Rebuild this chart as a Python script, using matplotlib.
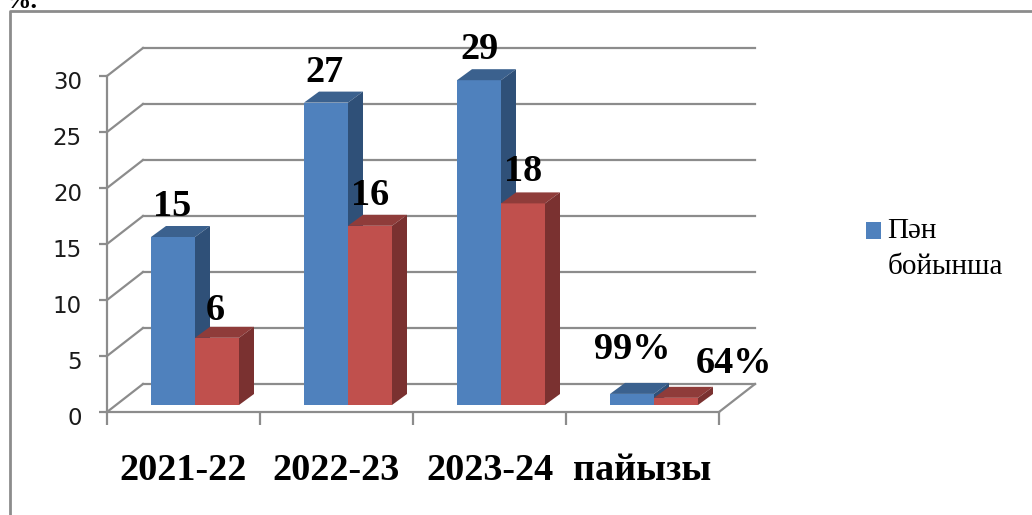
import matplotlib
matplotlib.use('Agg')
import matplotlib.pyplot as plt
from matplotlib.patches import Polygon, Rectangle
from matplotlib.lines import Line2D
from matplotlib.transforms import ScaledTranslation

# Data
categories = ['2021-22', '2022-23', '2023-24', 'пайызы']
blue_values = [15, 27, 29, 0.99]
red_values = [6, 16, 18, 0.64]
blue_labels = ['15', '27', '29', '99%']
red_labels = ['6', '16', '18', '64%']
y_ticks = [0, 5, 10, 15, 20, 25, 30]
legend_text = 'Пән\nбойынша'

# label offsets from the bar top, in pixels (x, y up)
blue_offsets = [(-1, 30), (-2, 30), (0, 31), (0, 44)]
red_offsets = [(-2, 27), (0, 30), (0, 32), (58, 34)]

SERIF = ['Liberation Serif', 'DejaVu Serif']

W, H = 1032, 515
fig = plt.figure(figsize=(W / 100, H / 100), dpi=100)
fig.patch.set_facecolor('white')

GRID = '#8c8c8c'

# Outer chart frame, only top and left are inside the crop
fig.add_artist(Line2D([1, 10 / W, 10 / W], [1 - 11 / H, 1 - 11 / H, 0], transform=fig.transFigure,
                      color=GRID, linewidth=2))
fig.text(4 / W, 1 - 1 / H, '%.', family=SERIF, fontsize=19, fontweight='bold', va='center', ha='left')

# Axes placed so that y 0 -> 412px, y 30 -> 76px, x spans 107..719px
ax = fig.add_axes([107 / W, 1 - 412 / H, 612 / W, 336 / H])
ax.set_xlim(-0.5, 3.5)
ax.set_ylim(0, 30)
ax.patch.set_alpha(0)

px_x = 4 / 612   # data units per pixel
px_y = 30 / 336
dx, dy = 36 * px_x, 28 * px_y        # depth of the floor
bdx, bdy = 15 * px_x, 11 * px_y      # depth of a bar
shift_x, shift_y = 11.5 * px_x, 7 * px_y
bar_w = 44 * px_x

# Back wall grid lines and the slanted ones on the left wall
for t in y_ticks:
    ax.plot([-0.5 + dx, 3.5 + dx], [t + dy, t + dy], color=GRID, lw=1.6, clip_on=False, zorder=1)
    ax.plot([-0.5, -0.5 + dx], [t, t + dy], color=GRID, lw=1.6, clip_on=False, zorder=1)
ax.plot([3.5, 3.5 + dx], [0, dy], color=GRID, lw=1.6, clip_on=False, zorder=1)


def draw_bar(x0, val, front, top, side, z):
    y0 = shift_y
    x1 = x0 + bar_w
    y1 = y0 + val
    ax.bar(x0, val, width=bar_w, bottom=y0, align='edge', color=front, linewidth=0, zorder=z)
    ax.add_patch(Polygon([(x0, y1), (x1, y1), (x1 + bdx, y1 + bdy), (x0 + bdx, y1 + bdy)],
                         facecolor=top, edgecolor='none', zorder=z, clip_on=False))
    ax.add_patch(Polygon([(x1, y0), (x1 + bdx, y0 + bdy), (x1 + bdx, y1 + bdy), (x1, y1)],
                         facecolor=side, edgecolor='none', zorder=z, clip_on=False))


def value_label(x, val, text, offset):
    ax.annotate(text, (x, val + shift_y), xytext=offset, textcoords='offset pixels', family=SERIF,
                fontsize=27.5, fontweight='bold', ha='center', va='center', zorder=10,
                annotation_clip=False)


for i in range(len(categories)):
    left = i + shift_x - bar_w
    draw_bar(left, blue_values[i], '#4f81bd', '#3b618e', '#2f5078', 3 + i)
    draw_bar(left + bar_w, red_values[i], '#c0504d', '#8f3c3a', '#7a3130', 3.5 + i)

    # value labels
    value_label(left + bar_w / 2, blue_values[i], blue_labels[i], blue_offsets[i])
    value_label(left + bar_w * 1.5, red_values[i], red_labels[i], red_offsets[i])

# Axes styling
for s in ['top', 'right']:
    ax.spines[s].set_visible(False)
for s in ['left', 'bottom']:
    ax.spines[s].set_color(GRID)
    ax.spines[s].set_linewidth(1.6)
    ax.spines[s].set_zorder(2)

ax.set_yticks(y_ticks)
ax.set_xticks([-0.5, 0.5, 1.5, 2.5, 3.5])
ax.set_xticklabels([])
ax.tick_params(axis='y', length=6, width=1.6, color=GRID, labelsize=16.5, labelcolor='#1a1a1a', pad=12)
ax.tick_params(axis='x', length=9, width=1.6, color=GRID)
for lbl in ax.get_yticklabels():
    lbl.set_transform(lbl.get_transform() + ScaledTranslation(0, -3 / 72, fig.dpi_scale_trans))

for i, c in enumerate(categories):
    ax.annotate(c, (i, 0), xytext=(0, -58), textcoords='offset pixels', family=SERIF, fontsize=27.5,
                fontweight='bold', ha='center', va='center', annotation_clip=False)

# Legend
handle = Rectangle((0, 0), 1, 1, facecolor='#4f81bd', edgecolor='none')
leg = fig.legend([handle], [legend_text], loc='upper left', bbox_to_anchor=(866 / W, 1 - 218 / H),
                 frameon=False, handlelength=0.5, handleheight=0.5, handletextpad=0.24,
                 labelspacing=0, borderpad=0, borderaxespad=0,
                 prop={'family': SERIF, 'size': 21}, alignment='left')
leg.get_texts()[0].set_linespacing(1.5)
# move the swatch up beside the first line of text
leg.legend_handles[0].set_y(20 * 0.72)

fig.savefig('out.png', dpi=100)
